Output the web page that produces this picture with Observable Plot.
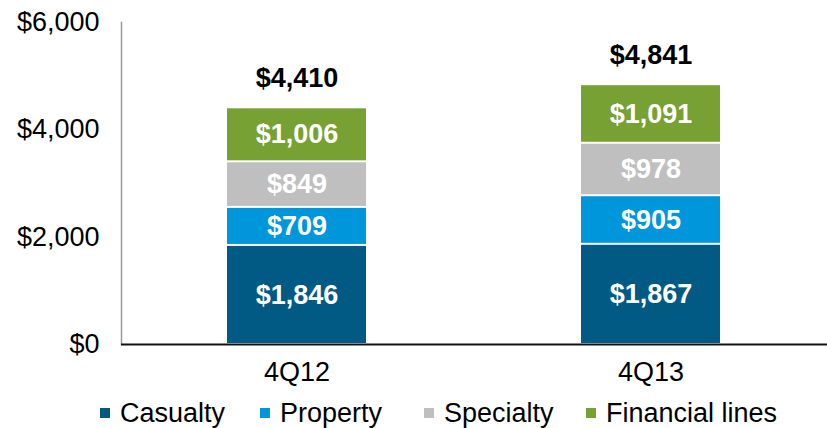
<!DOCTYPE html>
<html><head><meta charset="utf-8">
<script src="https://cdn.jsdelivr.net/npm/d3@7"></script>
<script src="https://cdn.jsdelivr.net/npm/@observablehq/plot@0.6"></script>
<style>
body{margin:0;background:#fff;font-family:"Liberation Sans",Arial,sans-serif;}
#legend{position:relative;height:30px;width:827px;font-size:27px;color:#000;}
.item{position:absolute;top:0;height:30px;line-height:30px;white-space:nowrap;}
.sw{display:inline-block;width:10px;height:10px;margin-right:10px;vertical-align:middle;position:relative;top:-2px;}
</style></head>
<body><div id="chart"></div><div id="legend"></div>
<script>
const quarters = ["4Q12", "4Q13"];
const seriesNames = ["Casualty", "Property", "Specialty", "Financial lines"];
const casualty = [1846, 1867];
const property = [709, 905];
const specialty = [849, 978];
const financial = [1006, 1091];
const totals = [4410, 4841];
const colors = ["#005A84", "#0096DB", "#BFBFBF", "#77A132"];
const yTicks = [0, 2000, 4000, 6000];
const legendLeft = [100, 260, 424, 586];

const seriesValues = [casualty, property, specialty, financial];
const rows = [];
quarters.forEach((q, i) => seriesNames.forEach((s, j) => rows.push({quarter: q, series: s, value: seriesValues[j][i]})));
const totalRows = quarters.map((q, i) => ({quarter: q, total: totals[i]}));
const fmt = v => "$" + d3.format(",")(v);

const plot = Plot.plot({
  width: 827, height: 398,
  marginLeft: 121, marginRight: 0, marginTop: 22, marginBottom: 54,
  style: {fontFamily: "'Liberation Sans', Arial, sans-serif", fontSize: "27px", color: "#000", background: "#fff"},
  x: {domain: quarters, paddingInner: 0.606, paddingOuter: 0.3, label: null},
  y: {domain: [0, 6000], label: null},
  color: {domain: seriesNames, range: colors},
  marks: [
    Plot.barY(rows, Plot.stackY({x: "quarter", y: "value", fill: "series", order: seriesNames, insetTop: 1, insetBottom: 1})),
    Plot.text(rows, Plot.stackY({x: "quarter", y: "value", z: "series", order: seriesNames, text: d => fmt(d.value), fill: "white", fontWeight: "bold", fontSize: 27})),
    Plot.text(totalRows, {x: "quarter", y: "total", text: d => fmt(d.total), dy: -29, fill: "black", fontWeight: "bold", fontSize: 27}),
    Plot.frame({anchor: "left", stroke: "#999", strokeWidth: 1.5}),
    Plot.ruleY([0], {stroke: "#111", strokeWidth: 2}),
    Plot.axisY({ticks: yTicks, tickSize: 0, tickPadding: 22, tickFormat: fmt, fontSize: 27}),
    Plot.axisX({tickSize: 0, tickPadding: 17, fontSize: 27})
  ]
});
document.getElementById("chart").appendChild(plot);

const legend = document.getElementById("legend");
seriesNames.forEach((s, i) => {
  const item = document.createElement("div");
  item.className = "item";
  item.style.left = legendLeft[i] + "px";
  const sw = document.createElement("span");
  sw.className = "sw";
  sw.style.background = colors[i];
  item.appendChild(sw);
  item.appendChild(document.createTextNode(s));
  legend.appendChild(item);
});
</script></body></html>
